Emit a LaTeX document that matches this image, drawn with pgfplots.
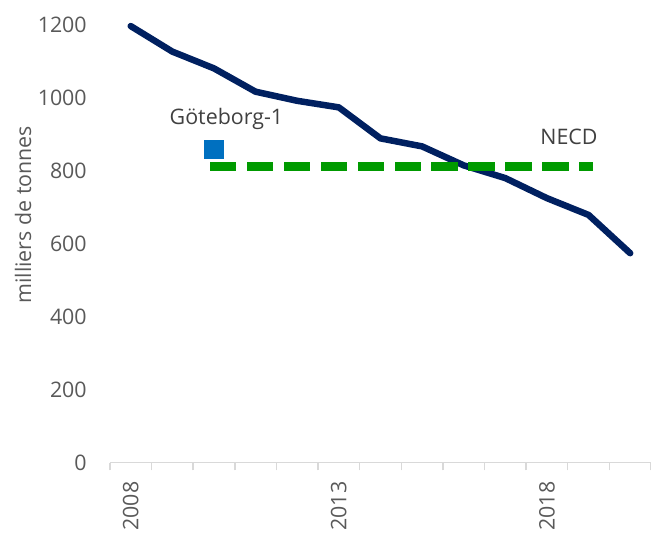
\documentclass[border=0pt]{standalone}
\usepackage{pgfplots}
\pgfplotsset{compat=1.18}
\usepackage{fontspec}
\setmainfont{Open Sans}
\definecolor{navy}{HTML}{002060}
\definecolor{gblue}{HTML}{0070C0}
\definecolor{ngreen}{HTML}{009A00}
\definecolor{tickgray}{HTML}{595959}
\definecolor{lblgray}{HTML}{404040}
\definecolor{axgray}{HTML}{D9D9D9}
\begin{document}
\fontsize{21.5}{25}\selectfont
\begin{tikzpicture}
\path[use as bounding box] (-110bp,-73bp) rectangle (541.7bp,463bp);
\begin{axis}[
  scale only axis, width=541.7bp, height=438bp,
  at={(0,0)}, anchor=south west,
  xmin=2007.5, xmax=2020.5, ymin=0, ymax=1200,
  clip=false,
  axis x line*=bottom, axis y line*=left,
  y axis line style={draw=none},
  x axis line style={draw=axgray, line width=1.5bp, -},
  xtick={2008,2013,2018},
  minor xtick={2007.5,2008.5,...,2020.5},
  ytick={0,200,...,1200},
  major tick length=0pt, minor tick length=8bp, tick align=outside,
  minor tick style={draw=axgray, line width=1.5bp},
  /pgf/number format/1000 sep={},
  /pgf/number format/assume math mode=true,
  x tick label style={rotate=90, anchor=east, inner sep=0pt, xshift=-19bp, text=tickgray},
  y tick label style={anchor=east, inner sep=0pt, xshift=-23bp, text=tickgray},
  ylabel={milliers de tonnes},
  ylabel style={at={(axis description cs:-0.1606,0.5662)}, anchor=center, text=tickgray},
]
\addplot[navy, line width=6.5bp, line join=round, line cap=round] coordinates {
  (2008,1197) (2009,1127) (2010,1081) (2011,1017) (2012,992) (2013,974)
  (2014,889) (2015,867) (2016,815) (2017,780) (2018,725) (2019,679) (2020,574)
};
\addplot[ngreen, line width=8.5bp, line cap=rect, dash pattern=on 18bp off 19bp] coordinates {
  (2010,812) (2019,812)
};
\addplot[only marks, mark=square*, mark size=9.2bp, mark options={fill=gblue, draw=gblue, line width=0.6bp}] coordinates {
  (2010,859)
};
\node[anchor=base, text=lblgray] at (axis cs:2010.3,926) {Göteborg-1};
\node[anchor=base, text=lblgray] at (axis cs:2018.53,873) {NECD};
\end{axis}
\end{tikzpicture}
\end{document}
